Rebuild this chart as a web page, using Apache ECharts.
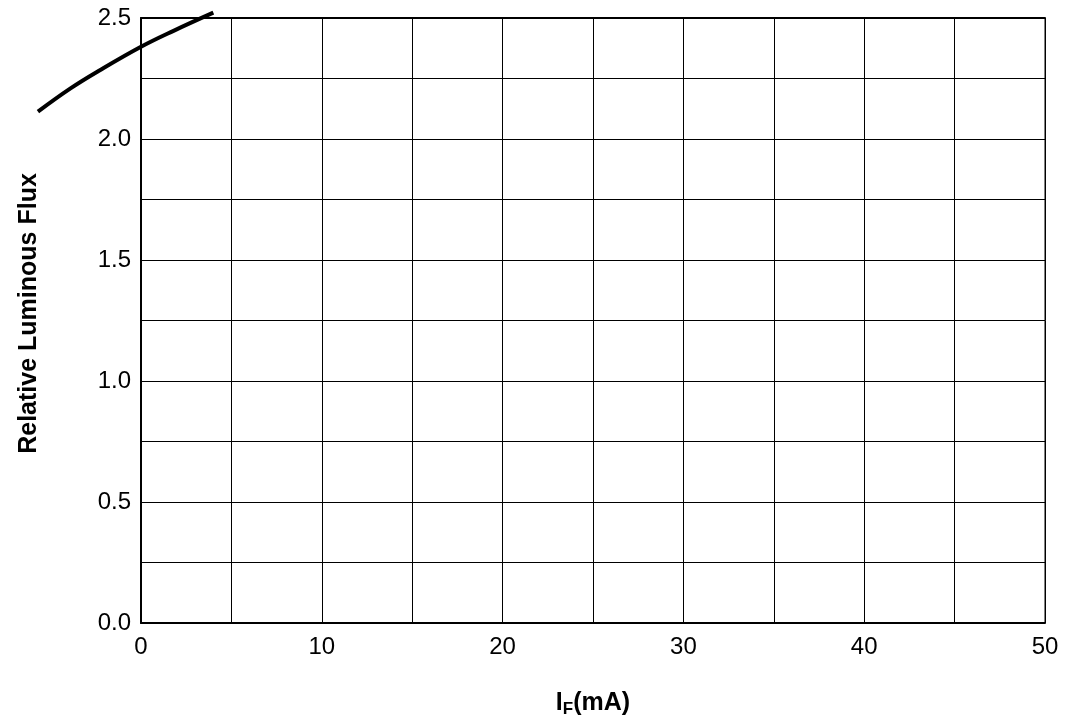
<!DOCTYPE html>
<html><head><meta charset="utf-8">
<script src="https://cdn.jsdelivr.net/npm/echarts@6/dist/echarts.min.js"></script>
<style>html,body{margin:0;padding:0;background:#fff}#c{width:1065px;height:725px}</style>
</head><body><div id="c"></div>
<script>
const currentMA = [-5.7, -3.9, -2.3, 0, 1.8, 4.0];
const relFlux = [2.113, 2.209, 2.283, 2.381, 2.447, 2.522];
const xTicks = [0, 10, 20, 30, 40, 50];
const yTicks = [0.0, 0.5, 1.0, 1.5, 2.0, 2.5];

const chart = echarts.init(document.getElementById('c'));
const font = 'Liberation Sans, Arial, sans-serif';
// main plot: x 0..50 over 904px (18.08 px/unit), y 0..2.5 over 605px (242 px/unit)
const L = 141, R = 20, T = 18, B = 102;
const pxX = (1065 - L - R) / 50, pxY = (725 - T - B) / 2.5;
// overlay grid with identical scale but wider extent so the curve can run outside the frame
const x2min = -6, y2max = 2.55;
chart.setOption({
  animation: false,
  grid: [
    {left: L, right: R, top: T, bottom: B, show: true, borderColor: '#000', borderWidth: 1},
    {left: L + x2min * pxX, right: R, top: T - (y2max - 2.5) * pxY, bottom: B, show: false}
  ],
  xAxis: [{
    gridIndex: 0, type: 'value', min: 0, max: 50, interval: 5,
    axisLine: {show: true, lineStyle: {color: '#000', width: 2}},
    axisTick: {show: false},
    splitLine: {show: true, lineStyle: {color: '#000', width: 1}},
    axisLabel: {color: '#000', fontSize: 24, fontFamily: font, margin: 12,
      formatter: v => xTicks.includes(v) ? String(v) : ''},
    name: '{b|I}{s|F}{b|(mA)}', nameLocation: 'middle', nameGap: 66,
    nameTextStyle: {rich: {
      b: {fontSize: 25, fontWeight: 'bold', fontFamily: font, color: '#000'},
      s: {fontSize: 17, fontWeight: 'bold', fontFamily: font, color: '#000', verticalAlign: 'bottom', padding: [12, 0, 0, 0]}
    }}
  }, {
    gridIndex: 0, type: 'value', min: 0, max: 50, position: 'top',
    axisLine: {show: true, lineStyle: {color: '#000', width: 2}},
    axisTick: {show: false}, axisLabel: {show: false}, splitLine: {show: false}
  }, {
    gridIndex: 1, type: 'value', min: x2min, max: 50, show: false
  }],
  yAxis: [{
    gridIndex: 0, type: 'value', min: 0, max: 2.5, interval: 0.25,
    axisLine: {show: true, lineStyle: {color: '#000', width: 2}},
    axisTick: {show: false},
    splitLine: {show: true, lineStyle: {color: '#000', width: 1}},
    axisLabel: {color: '#000', fontSize: 24, fontFamily: font, margin: 10,
      formatter: v => yTicks.some(t => Math.abs(t - v) < 1e-6) ? v.toFixed(1) : ''},
    name: 'Relative Luminous Flux', nameLocation: 'middle', nameGap: 99, nameRotate: 90,
    nameTextStyle: {fontSize: 25, fontWeight: 'bold', fontFamily: font, color: '#000', padding: [0, 0, 0, 14]}
  }, {
    gridIndex: 1, type: 'value', min: 0, max: y2max, show: false
  }],
  series: [{
    type: 'line', xAxisIndex: 2, yAxisIndex: 1, smooth: 0.4, symbol: 'none', clip: false,
    lineStyle: {color: '#000', width: 4},
    data: currentMA.map((x, i) => [x, relFlux[i]])
  }]
});
</script></body></html>
